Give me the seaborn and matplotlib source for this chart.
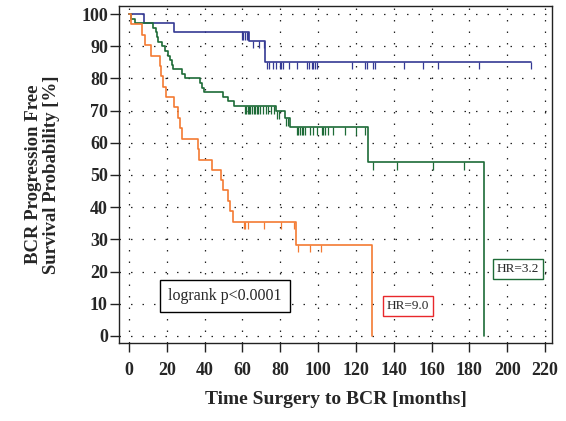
import numpy as np
import pandas as pd
import matplotlib
matplotlib.use("Agg")
import matplotlib.pyplot as plt
import seaborn as sb

# step curves (time in months, survival in %)
blue_t = [0, 7.9, 23.6, 63.6, 71.9, 212.4]
blue_s = [100, 97.1, 94.3, 91.7, 85.2, 85.2]
blue_cens = [59.8, 60.5, 61.3, 62.2, 63.1, 65.8, 68.7, 71.4, 72.8, 74.2, 76.3, 77.6, 79.9,
             80.4, 81.3, 84.6, 89.0, 94.0, 95.4, 96.6, 97.5, 98.4, 99.3, 117.8, 124.8, 126.0,
             128.9, 130.1, 145.4, 155.6, 163.2, 185.1, 212.4]

green_t = [0, 0.8, 3.2, 12.9, 14.3, 15.0, 15.5, 17.3, 19.0, 20.8, 21.7, 22.5, 23.4, 27.9, 29.6,
           37.8, 38.6, 39.5, 49.9, 52.5, 55.7, 77.7, 82.5, 85.1, 126.6, 187.6]
green_s = [100, 98.6, 97.2, 95.7, 94.3, 92.9, 91.4, 90.0, 88.6, 87.1, 85.7, 84.3, 82.9, 81.4, 80.0,
           78.6, 77.1, 75.7, 74.3, 72.9, 71.4, 69.8, 67.6, 64.8, 53.9, 0]
green_cens = [61.3, 62.0, 62.8, 63.5, 64.2, 65.0, 66.0, 66.8, 67.5, 68.3, 69.5, 71.0, 72.5, 73.5,
              75.0, 76.5, 78.4, 79.5, 83.2, 84.0, 88.7, 89.5, 90.4, 91.3, 92.2, 93.0, 95.7, 97.5,
              99.3, 101.9, 102.7, 103.6, 105.4, 108.0, 114.2, 120.0, 124.8, 128.9, 141.6, 160.9, 177.3]

orange_t = [0, 1.1, 6.7, 8.5, 11.5, 16.4, 16.8, 17.8, 19.6, 23.8, 26.1, 27.0, 28.2, 36.3, 37.0,
            44.0, 48.6, 49.9, 52.2, 53.4, 55.2, 88.3, 128.3]
orange_s = [100, 96.8, 93.5, 90.3, 87.1, 83.9, 80.6, 77.4, 74.2, 71.0, 67.7, 64.5, 61.3, 58.1, 54.8,
            51.6, 48.4, 45.2, 41.9, 38.7, 35.5, 28.4, 0]
orange_cens = [60.8, 61.5, 63.1, 71.4, 80.2, 87.3, 89.2, 95.7, 101.4]

colors = {"blue": "#353a94", "green": "#1d6b37", "orange": "#f47a32"}

x_ticks = list(range(0, 221, 20))
y_ticks = list(range(0, 101, 10))

sb.set_style("white")
plt.rcParams["font.family"] = ["Liberation Serif", "DejaVu Serif"]

curves = {"blue": (blue_t, blue_s, blue_cens),
          "green": (green_t, green_s, green_cens),
          "orange": (orange_t, orange_s, orange_cens)}

df = pd.concat([pd.DataFrame({"t": c[0], "s": c[1], "group": g}) for g, c in curves.items()],
               ignore_index=True)

fig = plt.figure(figsize=(5.66, 4.21), dpi=100)
ax = fig.add_axes([119/566, 1 - 343/421, 433/566, 337/421])

sb.lineplot(data=df, x="t", y="s", hue="group", palette=colors, drawstyle="steps-post",
            estimator=None, sort=False, legend=False, lw=1.2, ax=ax)

# censor marks hang down from the curve
for g, (t, s, cens) in curves.items():
    t = np.array(t); s = np.array(s)
    idx = np.searchsorted(t, cens, side="right") - 1
    lev = s[idx]
    ax.vlines(cens, lev - 2.3, lev, color=colors[g], lw=0.9)

ax.set_xlim(-5.3, 223.7)
ax.set_ylim(-2.2, 102.5)
ax.set_xticks(x_ticks)
ax.set_yticks(y_ticks)
ax.grid(True, color="#222222", linestyle=(0, (1.2, 8)), lw=0.9)
for sp in ax.spines.values():
    sp.set_linewidth(1.0)
    sp.set_color("#222222")
ax.tick_params(direction="out", length=6.5, width=1.0, color="#222222", labelsize=13,
               bottom=True, left=True)
ax.tick_params(axis="x", pad=7)
ax.tick_params(axis="y", pad=1.5)
for lab in ax.get_xticklabels() + ax.get_yticklabels():
    lab.set_fontweight("bold")

ax.set_xlabel("Time Surgery to BCR [months]", fontsize=14, fontweight="bold", labelpad=9)
ax.set_ylabel("BCR Progression Free\nSurvival Probability [%]", fontsize=13.5, fontweight="bold",
              labelpad=15, linespacing=1.1)

ax.text(50.8, 12.4, "logrank p<0.0001", fontsize=11.5, ha="center", va="center",
        bbox=dict(boxstyle="square,pad=0.5", fc="white", ec="black", lw=1.0))
ax.text(147.5, 9.4, "HR=9.0", fontsize=9.5, ha="center", va="center",
        bbox=dict(boxstyle="square,pad=0.3", fc="white", ec="#e8282b", lw=1.0))
ax.text(205.6, 20.8, "HR=3.2", fontsize=9.5, ha="center", va="center",
        bbox=dict(boxstyle="square,pad=0.3", fc="white", ec="#1d6b37", lw=1.0))

fig.savefig("out.png", dpi=100)
